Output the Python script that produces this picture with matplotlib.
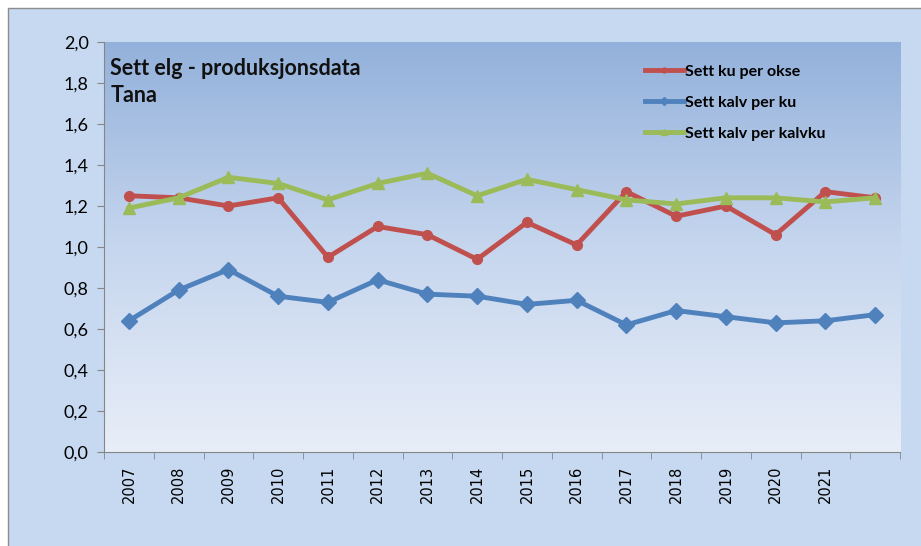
import matplotlib.pyplot as plt
import numpy as np
from matplotlib.patches import Rectangle
from matplotlib.colors import LinearSegmentedColormap

# Data
years = ['2007', '2008', '2009', '2010', '2011', '2012', '2013', '2014',
         '2015', '2016', '2017', '2018', '2019', '2020', '2021', '2022']
tick_labels = years[:-1] + ['']   # the last point has no label in the original
ku_per_okse = [1.25, 1.24, 1.20, 1.24, 0.95, 1.10, 1.06, 0.94,
               1.12, 1.01, 1.27, 1.15, 1.20, 1.06, 1.27, 1.24]
kalv_per_ku = [0.64, 0.79, 0.89, 0.76, 0.73, 0.84, 0.77, 0.76,
               0.72, 0.74, 0.62, 0.69, 0.66, 0.63, 0.64, 0.67]
kalv_per_kalvku = [1.19, 1.24, 1.34, 1.31, 1.23, 1.31, 1.36, 1.25,
                   1.33, 1.28, 1.23, 1.21, 1.24, 1.24, 1.22, 1.24]
y_ticks = [0.0, 0.2, 0.4, 0.6, 0.8, 1.0, 1.2, 1.4, 1.6, 1.8, 2.0]

W, H = 921, 546
fig = plt.figure(figsize=(W / 100, H / 100), dpi=100)
fig.patch.set_facecolor('white')

# outer chart frame
frame = Rectangle((8 / W, -0.01), 1.0, 1 - 8 / H + 0.01, transform=fig.transFigure,
                  facecolor='#c6d9f1', edgecolor='#8c8c8c', linewidth=1, zorder=-10)
fig.add_artist(frame)

ax = fig.add_axes([104 / W, (H - 452) / H, 796 / W, 410 / H])
ax.patch.set_alpha(0)

# gradient plot background
cmap = LinearSegmentedColormap.from_list('bg', ['#e8eef8', '#c6d6ee', '#93b1db'])
grad = np.linspace(0, 1, 256).reshape(-1, 1)
ax.imshow(grad, cmap=cmap, origin='lower', aspect='auto', extent=[0, 1, 0, 1],
          transform=ax.transAxes, zorder=0)

x = np.arange(len(years))
ax.plot(x, ku_per_okse, color='#c0504d', lw=3.5, marker='o', ms=7, label='Sett ku per okse', zorder=3)
ax.plot(x, kalv_per_ku, color='#4f81bd', lw=3.5, marker='D', ms=8, label='Sett kalv per ku', zorder=3)
ax.plot(x, kalv_per_kalvku, color='#9bbb59', lw=3.5, marker='^', ms=8, label='Sett kalv per kalvku', zorder=3)

ax.set_xlim(-0.5, len(years) - 0.5)
ax.set_ylim(0, 2.0)
ax.set_yticks(y_ticks)
ax.set_yticklabels([f'{v:.1f}'.replace('.', ',') for v in y_ticks], fontsize=13, family='Lato')
ax.set_xticks(x)
ax.set_xticklabels(tick_labels, rotation=90, fontsize=10.5, family='DejaVu Sans')
ax.tick_params(axis='x', which='major', length=0, pad=10)
ax.set_xticks(np.arange(-0.5, len(years)), minor=True)
ax.tick_params(axis='x', which='minor', length=5, color='#868686')
ax.tick_params(axis='y', length=5, color='#868686', pad=6)

for s in ['top', 'right']:
    ax.spines[s].set_visible(False)
for s in ['left', 'bottom']:
    ax.spines[s].set_color('#868686')

ax.text(0.008, 0.96, 'Sett elg - produksjonsdata\nTana', transform=ax.transAxes, fontsize=15.5,
        fontweight='bold', family='Lato', va='top', ha='left', linespacing=1.3, color='#111111')

leg = ax.legend(loc='upper left', bbox_to_anchor=(0.662, 0.98), frameon=False, handlelength=2.4,
                handletextpad=0.1, labelspacing=1.05, markerscale=0.5,
                prop={'family': 'Lato', 'weight': 'bold', 'size': 11.5})

fig.savefig('out.png', dpi=100)
